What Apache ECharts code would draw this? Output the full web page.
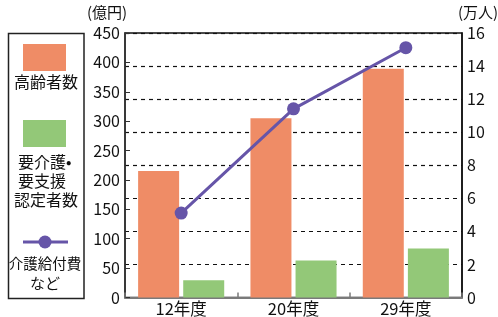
<!DOCTYPE html>
<html><head><meta charset="utf-8">
<script src="https://cdn.jsdelivr.net/npm/echarts@6/dist/echarts.min.js"></script>
<style>html,body{margin:0;padding:0;background:#fff}#c{width:498px;height:317px}</style>
</head><body><div id="c"></div>
<script>
const categories = ['12年度', '20年度', '29年度'];
const elderly = [7.65, 10.85, 13.84];        // 高齢者数 (万人)
const certified = [1.04, 2.24, 2.96];        // 要介護・要支援認定者数 (万人)
const benefits = [143.6, 321, 425];          // 介護給付費など (億円)
const leftTicks = [0, 450, 50];
const rightTicks = [0, 16, 2];

const FONT = '"Noto Sans CJK JP", "Noto Sans", sans-serif';
const C_OR = '#EF8C66', C_GR = '#93C878', C_PU = '#6655A8';
const TXT = '#111';
const chart = echarts.init(document.getElementById('c'), null, {renderer: 'canvas'});
chart.setOption({
  animation: false,
  textStyle: {fontFamily: FONT},
  grid: {left: 125, right: 36, top: 33, bottom: 18, show: true, borderColor: '#111', borderWidth: 1.5, backgroundColor: 'transparent'},
  xAxis: {
    type: 'category', data: categories,
    axisLine: {lineStyle: {color: '#7a7a7a', width: 2}},
    axisTick: {show: true, inside: true, length: 5, lineStyle: {color: '#7a7a7a', width: 1.5}},
    axisLabel: {fontSize: 16.5, color: TXT, margin: 3, fontFamily: FONT}
  },
  yAxis: [
    {type: 'value', min: leftTicks[0], max: leftTicks[1], interval: leftTicks[2], position: 'left',
     axisLine: {show: true, lineStyle: {color: '#333', width: 1.5}},
     axisTick: {show: true, inside: true, length: 5, lineStyle: {color: '#333'}},
     axisLabel: {fontSize: 16, color: TXT, margin: 5, fontFamily: FONT},
     splitLine: {show: false}},
    {type: 'value', min: rightTicks[0], max: rightTicks[1], interval: rightTicks[2], position: 'right',
     axisLine: {show: true, lineStyle: {color: '#111', width: 1.5}},
     axisTick: {show: false},
     axisLabel: {fontSize: 16, color: TXT, margin: 5, fontFamily: FONT},
     splitLine: {show: true, lineStyle: {color: '#111', type: [4, 4], width: 1.2}}}
  ],
  series: [
    {name: '高齢者数', type: 'bar', yAxisIndex: 1, data: elderly, barWidth: 41, barGap: '10%', itemStyle: {color: C_OR}},
    {name: '要介護・要支援認定者数', type: 'bar', yAxisIndex: 1, data: certified, barWidth: 41, barGap: '10%', itemStyle: {color: C_GR}},
    {name: '介護給付費など', type: 'line', yAxisIndex: 0, data: benefits, symbol: 'circle', symbolSize: 13,
     lineStyle: {color: C_PU, width: 3}, itemStyle: {color: C_PU}, z: 5}
  ],
  graphic: [
    {type: 'text', x: 107, y: 12, style: {text: '(億円)', font: '15px ' + FONT, fill: TXT, textAlign: 'center', textVerticalAlign: 'middle'}},
    {type: 'text', x: 478, y: 12, style: {text: '(万人)', font: '15px ' + FONT, fill: TXT, textAlign: 'center', textVerticalAlign: 'middle'}},
    {type: 'rect', shape: {x: 8.5, y: 33.5, width: 75.5, height: 265}, style: {fill: 'none', stroke: '#222', lineWidth: 1.5}},
    {type: 'rect', shape: {x: 23, y: 44, width: 43, height: 27}, style: {fill: C_OR}},
    {type: 'text', x: 46, y: 82, style: {text: '高齢者数', font: '16px ' + FONT, fill: TXT, textAlign: 'center', textVerticalAlign: 'middle'}},
    {type: 'rect', shape: {x: 23, y: 120, width: 43, height: 27}, style: {fill: C_GR}},
    {type: 'text', x: 18, y: 162, style: {text: '要介護•', font: '16px ' + FONT, fill: TXT, textAlign: 'left', textVerticalAlign: 'middle'}},
    {type: 'text', x: 18, y: 181, style: {text: '要支援', font: '16px ' + FONT, fill: TXT, textAlign: 'left', textVerticalAlign: 'middle'}},
    {type: 'text', x: 46, y: 200, style: {text: '認定者数', font: '16px ' + FONT, fill: TXT, textAlign: 'center', textVerticalAlign: 'middle'}},
    {type: 'line', shape: {x1: 23, y1: 242, x2: 68, y2: 242}, style: {stroke: C_PU, lineWidth: 3}},
    {type: 'circle', shape: {cx: 45, cy: 242, r: 6.5}, style: {fill: C_PU}},
    {type: 'text', x: 45, y: 263, style: {text: '介護給付費', font: '14.5px ' + FONT, fill: TXT, textAlign: 'center', textVerticalAlign: 'middle'}},
    {type: 'text', x: 45, y: 283, style: {text: 'など', font: '15px ' + FONT, fill: TXT, textAlign: 'center', textVerticalAlign: 'middle'}}
  ]
});
</script></body></html>
